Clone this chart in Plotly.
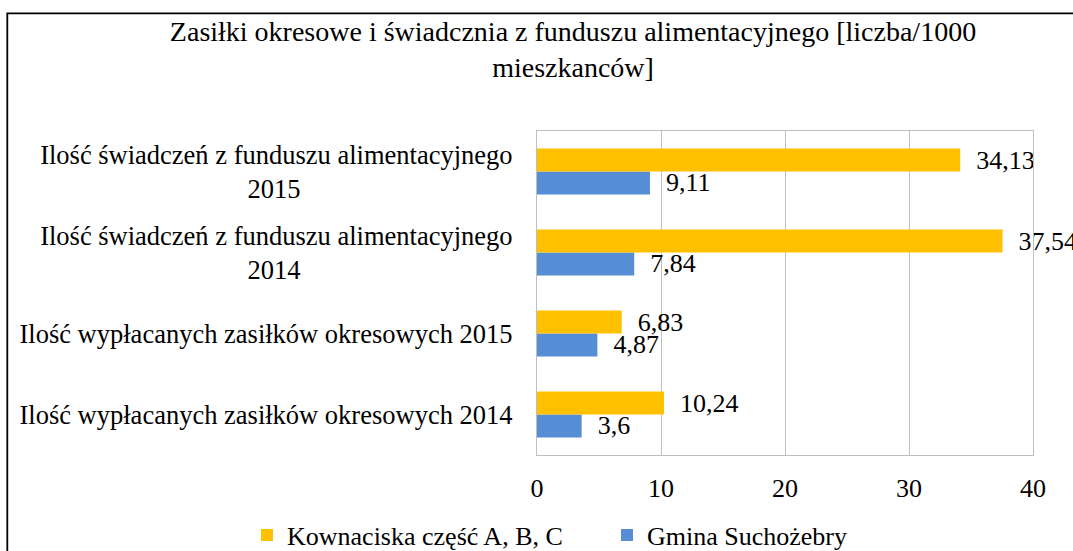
import plotly.graph_objects as go

# Data (bottom -> top in the chart)
categories = [
    "Ilość wypłacanych zasiłków okresowych 2014",
    "Ilość wypłacanych zasiłków okresowych 2015",
    "Ilość świadczeń z funduszu alimentacyjnego 2014",
    "Ilość świadczeń z funduszu alimentacyjnego 2015",
]
NB = "\u00a0"
tick_labels = [
    "Ilość wypłacanych zasiłków okresowych 2014",
    "Ilość wypłacanych zasiłków okresowych 2015",
    "Ilość świadczeń z funduszu alimentacyjnego<br>2014" + NB * 32,
    "Ilość świadczeń z funduszu alimentacyjnego<br>2015" + NB * 32,
]
kownaciska = [10.24, 6.83, 37.54, 34.13]
suchozebry = [3.6, 4.87, 7.84, 9.11]
series_names = ["Kownaciska część A, B, C", "Gmina Suchożebry"]
x_ticks = [0, 10, 20, 30, 40]

FONT = "Liberation Serif, Times New Roman, serif"
ORANGE = "#FFC000"
BLUE = "#558ED5"
GRID = "#BFBFBF"

def fmt(v):
    return NB * 2 + ("%g" % v).replace(".", ",")

fig = go.Figure()
fig.add_trace(go.Bar(
    y=categories, x=suchozebry, orientation="h", name=series_names[1],
    marker=dict(color=BLUE, line=dict(width=0)),
    text=[fmt(v) for v in suchozebry], textposition="outside",
    textfont=dict(family=FONT, size=26, color="black"),
    constraintext="none", cliponaxis=False, legendrank=2,
))
fig.add_trace(go.Bar(
    y=categories, x=kownaciska, orientation="h", name=series_names[0],
    marker=dict(color=ORANGE, line=dict(width=0)),
    text=[fmt(v) for v in kownaciska], textposition="outside",
    textfont=dict(family=FONT, size=26, color="black"),
    constraintext="none", cliponaxis=False, legendrank=1,
))

L, R, T, B = 537, 40, 131, 96
W, H = 1073, 551
pw, ph = W - L - R, H - T - B

def px2x(p):
    return (p - L) / pw

def py2y(p):
    return (H - B - p) / ph

fig.update_layout(
    width=W, height=H,
    margin=dict(l=L, r=R, t=T, b=B, pad=0, autoexpand=False),
    paper_bgcolor="white", plot_bgcolor="white",
    font=dict(family=FONT, size=26, color="black"),
    barmode="group", bargap=0.433, bargroupgap=0,
    title=dict(
        text="Zasiłki okresowe i świadcznia z funduszu alimentacyjnego [liczba/1000<br>mieszkanców]",
        font=dict(family=FONT, size=28, color="black"),
        x=573 / W, xref="container", xanchor="center",
        y=1 - 41 / H, yref="container", yanchor="top",
    ),
    xaxis=dict(
        range=[0, 40], tickvals=x_ticks, ticktext=[str(t) for t in x_ticks],
        showgrid=True, gridcolor=GRID, gridwidth=1.3,
        showline=True, linecolor=GRID, linewidth=1.3, mirror=True,
        zeroline=False, ticks="", ticklabelstandoff=10,
        tickfont=dict(family=FONT, size=26, color="black"),
        fixedrange=True,
    ),
    yaxis=dict(
        type="category", categoryorder="array", categoryarray=categories,
        tickvals=categories, ticktext=tick_labels,
        showgrid=False, showline=True, linecolor=GRID, linewidth=1.3, mirror=True,
        ticks="", ticklabelstandoff=18,
        tickfont=dict(family=FONT, size=26.5, color="black"),
        fixedrange=True,
    ),
    legend=dict(
        orientation="h", x=px2x(247), xanchor="left",
        y=py2y(535), yanchor="middle",
        font=dict(family=FONT, size=26, color="black"),
        entrywidth=315, entrywidthmode="pixels",
        bgcolor="rgba(0,0,0,0)",
    ),
    shapes=[dict(
        type="rect", xref="paper", yref="paper",
        x0=px2x(7.3), x1=px2x(1085), y0=py2y(565), y1=py2y(13.3),
        line=dict(color="black", width=1.8), fillcolor="rgba(0,0,0,0)",
        layer="above",
    )],
)

fig.write_html(
    "out.html",
    config={"displayModeBar": False},
    post_script="document.body.style.margin='0';document.body.style.overflow='hidden';"
                "document.documentElement.style.overflow='hidden';",
)
